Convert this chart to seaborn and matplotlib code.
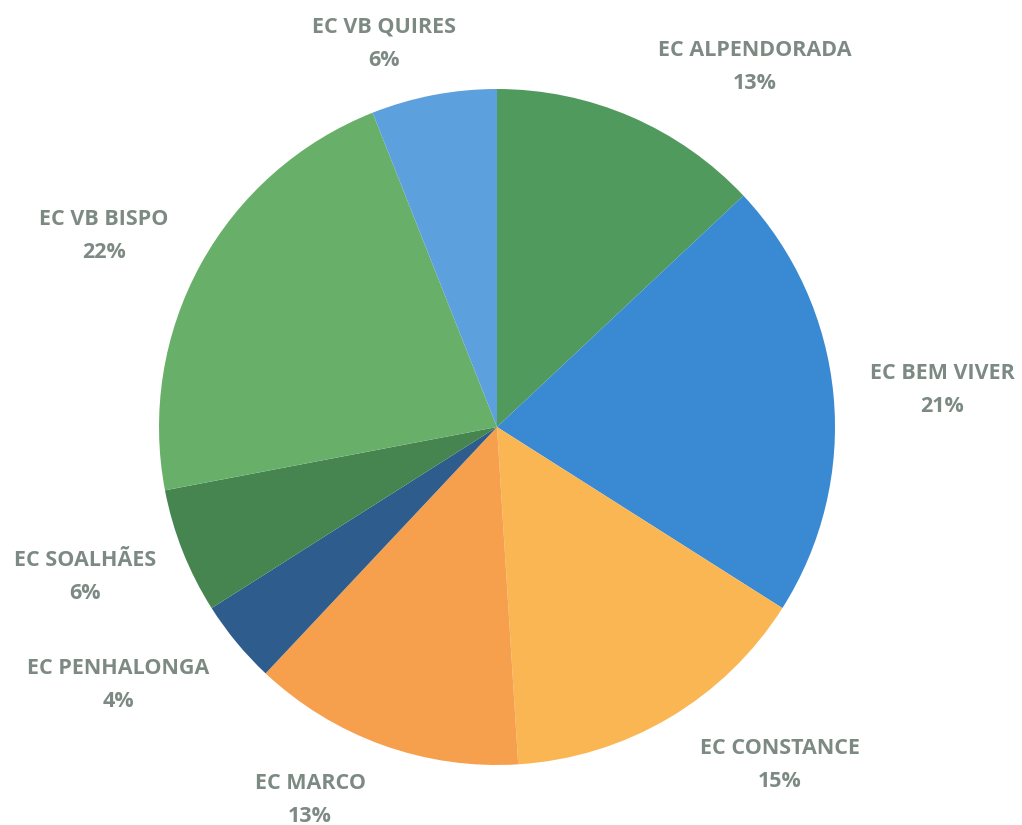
import matplotlib
matplotlib.use("Agg")
import matplotlib.pyplot as plt
import seaborn as sns

# Dados do gráfico (percentagens por estabelecimento)
categorias = ["EC ALPENDORADA", "EC BEM VIVER", "EC CONSTANCE", "EC MARCO",
              "EC PENHALONGA", "EC SOALHÃES", "EC VB BISPO", "EC VB QUIRES"]
valores = [13, 21, 15, 13, 4, 6, 22, 6]
cores = ["#519A5E", "#398AD2", "#FAB652", "#F6A04E",
         "#2E5C8C", "#468550", "#68B06A", "#5DA0DE"]

# posições das etiquetas (pixels, origem em baixo à esquerda)
pos_etiquetas = [(755, 758), (942, 435), (780, 60), (310, 25),
                 (118, 140), (85, 248), (104, 589), (384, 781)]

sns.set_theme(style="white")
plt.rcParams['font.family'] = ['Open Sans', 'DejaVu Sans']

fig = plt.figure(figsize=(10.22, 8.25), dpi=100)
ax = fig.add_axes([0, 0, 1, 1])

wedges, _ = ax.pie(valores, colors=cores, startangle=90, counterclock=False,
                   center=(497, 398), radius=338,
                   wedgeprops=dict(linewidth=0), frame=True)
ax.set_xlim(0, 1022)
ax.set_ylim(0, 825)
ax.set_aspect("equal")
ax.axis("off")

total = sum(valores)
for nome, v, (x, y) in zip(categorias, valores, pos_etiquetas):
    ax.text(x, y, f"{nome}\n{round(100 * v / total)}%", ha="center", va="center",
            fontsize=15.5, fontweight="bold", color="#7D8A84", linespacing=1.75)

plt.savefig("out.png", dpi=100, facecolor="white")
plt.close()
